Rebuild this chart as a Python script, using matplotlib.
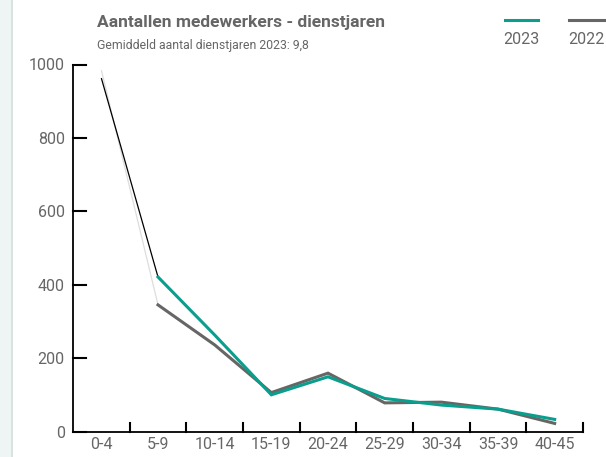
import numpy as np
import matplotlib.pyplot as plt
from matplotlib.patches import Rectangle
from matplotlib.lines import Line2D

plt.rcParams['font.family'] = ['Roboto', 'DejaVu Sans']

categories = ["0-4", "5-9", "10-14", "15-19", "20-24", "25-29", "30-34", "35-39", "40-45"]
values_2023 = [963, 421, 263, 100, 149, 90, 72, 61, 33]
values_2022 = [985, 345, 236, 106, 159, 78, 80, 61, 22]
yticks = [0, 200, 400, 600, 800, 1000]

teal = "#0a9e8c"
grey = "#666666"
txt = "#666666"

fig = plt.figure(figsize=(6.06, 4.57), dpi=100)
ax = fig.add_axes([73/606, (457-431.5)/457, 510/606, 367/457])

x = np.arange(len(categories))
# first segment is drawn thin (as in the reference)
ax.plot(x[:2], values_2022[:2], color="#dddddd", lw=0.9, solid_capstyle="butt")
ax.plot(x[:2], values_2023[:2], color="black", lw=0.9, solid_capstyle="butt")
ax.plot(x[1:], values_2022[1:], color=grey, lw=2.2, solid_joinstyle="miter")
ax.plot(x[1:], values_2023[1:], color=teal, lw=2.2, solid_joinstyle="miter")

ax.set_xlim(-0.5, len(categories) - 0.5)
ax.set_ylim(0, 1000)
ax.set_xticks(x)
ax.set_xticklabels(categories)
ax.set_yticks(yticks)
ax.tick_params(axis="x", length=0, pad=4, labelsize=11.5, labelcolor=txt)
ax.tick_params(axis="y", length=0, pad=6, labelsize=11.5, labelcolor=txt)
for s in ["top", "right"]:
    ax.spines[s].set_visible(False)
for s in ["left", "bottom"]:
    ax.spines[s].set_linewidth(1.3)

# inward ticks: y ticks at values, x ticks at band edges
for v in yticks:
    ax.axhline(v, 0, 13/510, color="black", lw=1.5, zorder=5, clip_on=False)
for e in np.arange(0.5, len(categories)):
    ax.axvline(e, 0, 9/367, color="black", lw=1.5, zorder=5, clip_on=False)

fig.text(97/606, 1 - 22/457, "Aantallen medewerkers - dienstjaren", fontsize=12.5,
         fontweight="bold", color=txt, va="center", ha="left")
fig.text(97/606, 1 - 46/457, "Gemiddeld aantal dienstjaren 2023: 9,8", fontsize=8.8,
         color=txt, va="center", ha="left")

# legend
for x0, x1, c, lab in [(505, 538, teal, "2023"), (569, 604, grey, "2022")]:
    fig.add_artist(Line2D([x0/606, x1/606], [1 - 20/457, 1 - 20/457], color=c, lw=2.2))
    fig.text((x0 + x1) / 2 / 606, 1 - 40/457, lab, fontsize=11.5, color=txt,
             ha="center", va="center")

# left strip
fig.add_artist(Rectangle((0, 0), 11/606, 1, transform=fig.transFigure,
                         facecolor="#eef5f4", edgecolor="none"))
fig.add_artist(Rectangle((11/606, 0), 1.5/606, 1, transform=fig.transFigure,
                         facecolor="#d8e3e2", edgecolor="none"))

fig.savefig("out.png", dpi=100)
